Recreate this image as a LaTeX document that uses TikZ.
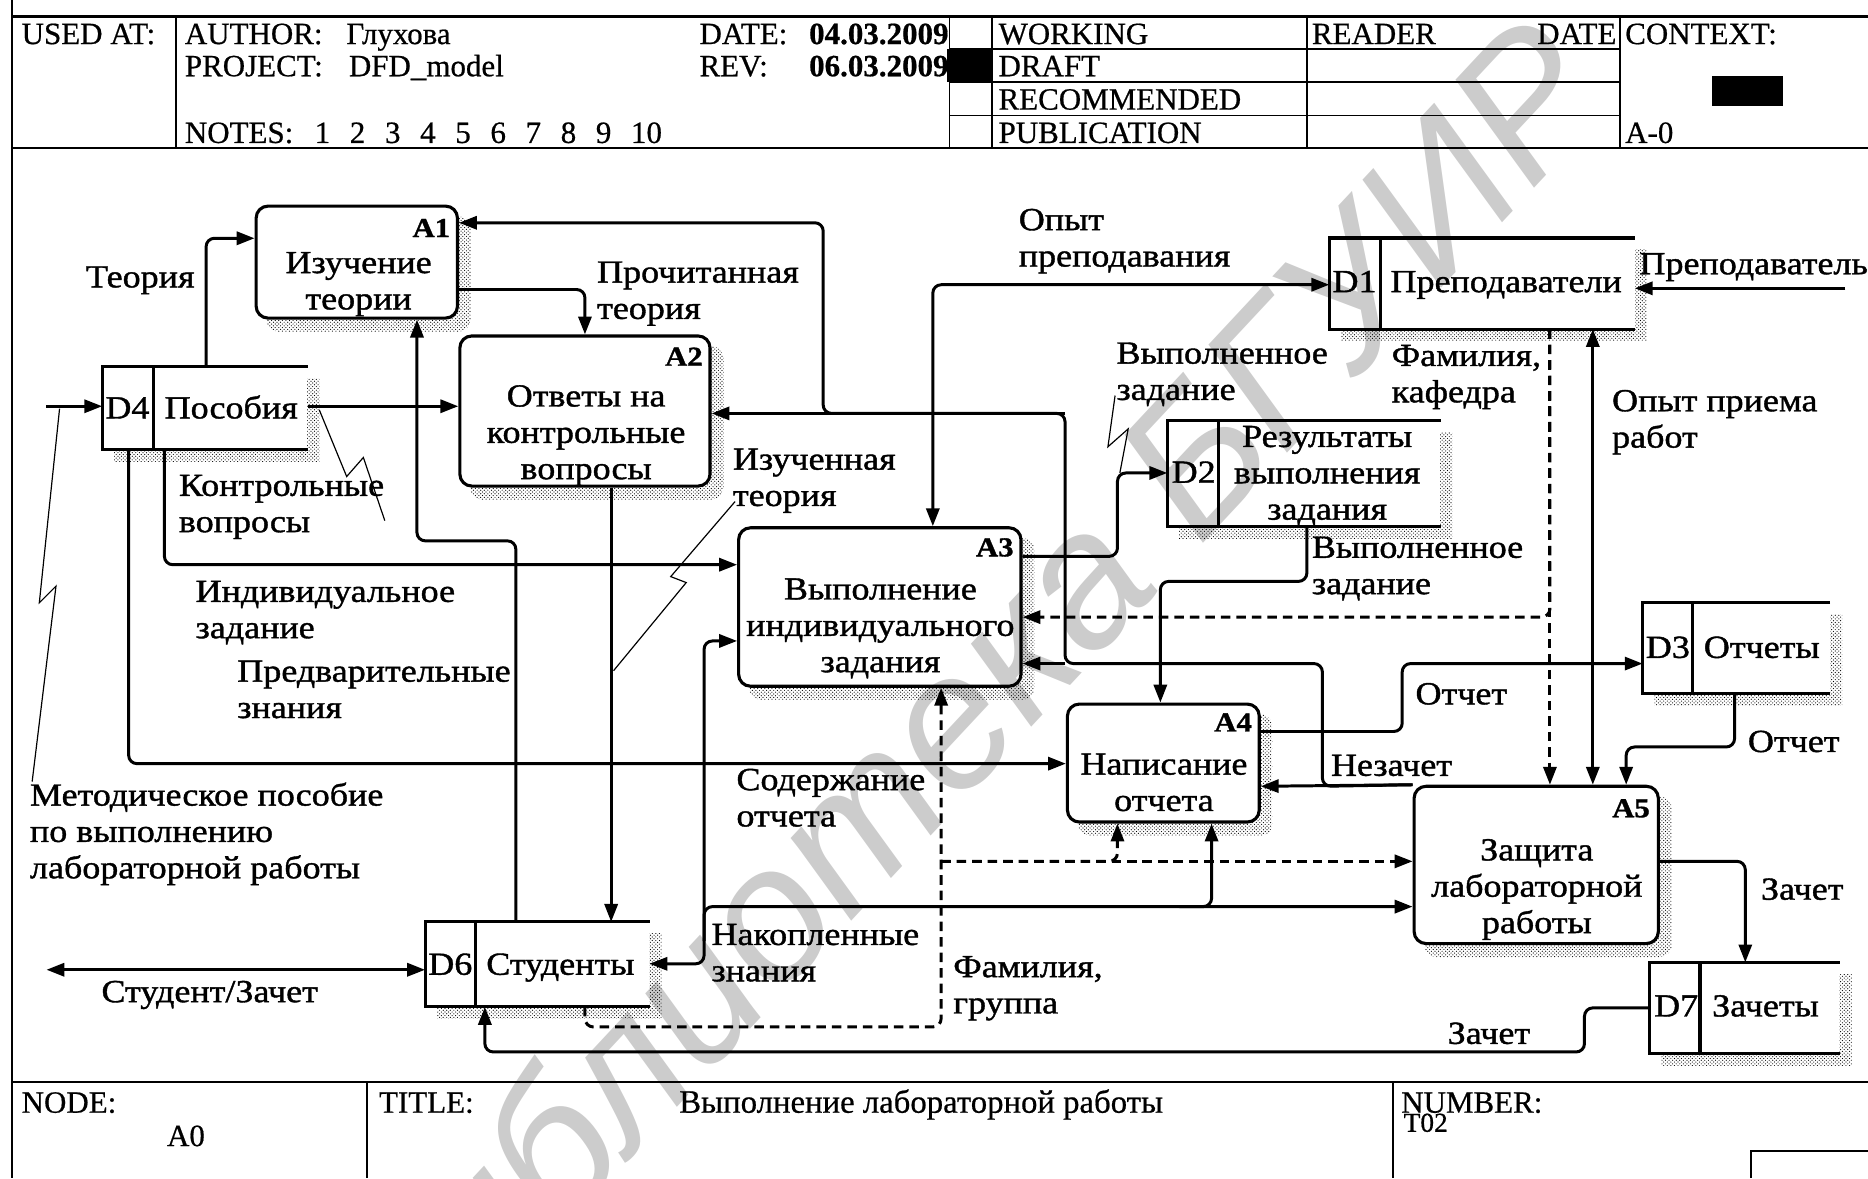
\documentclass[tikz,border=0pt]{standalone}
\usepackage{fontspec}
\setmainfont{Liberation Serif}[FakeBold=0.6]
\newfontfamily\dfont{Liberation Serif}[FakeStretch=1.12,FakeBold=1.2]
\newfontfamily\wmfont{Liberation Sans}
\usetikzlibrary{arrows.meta,patterns}
\pgfdeclarelayer{bg}
\pgfsetlayers{bg,main}
\tikzset{
  conn/.style={line width=2.5pt, rounded corners=7pt, -{Triangle[length=15pt,width=11pt]}},
  conn2/.style={line width=2.5pt, rounded corners=7pt, {Triangle[length=15pt,width=11pt]}-{Triangle[length=15pt,width=11pt]}},
  dconn/.style={conn, dash pattern=on 8pt off 5pt},
  squig/.style={line width=1pt},
  abox/.style={draw, line width=2.6pt, rounded corners=10pt, fill=white, inner sep=0pt},
  sbox/.style={fill=white, inner sep=0pt},
  sline/.style={line width=2.6pt},
  shad/.style={pattern=crosshatch dots, pattern color=black},
  lbl/.style={font=\dfont\fontsize{27}{30.5}\selectfont, inner sep=0pt, align=left, anchor=north west},
  ctxt/.style={font=\dfont\fontsize{27}{30.5}\selectfont, inner sep=0pt, align=center, anchor=north},
  aid/.style={font=\dfont\bfseries\fontsize{23}{26}\selectfont, inner sep=0pt, anchor=base east},
  hdr/.style={font=\fontsize{26}{30}\selectfont, inner sep=0pt, anchor=base west},
  hdrb/.style={font=\fontsize{26}{30}\selectfont\bfseries, inner sep=0pt, anchor=base west},
  frameline/.style={line width=2pt},
  hline/.style={line width=1.5pt},
}
\newcommand\mklbl[4]{\node[lbl] (#1) at (#2,#3-12) {\rule{0pt}{20pt}#4};}
\newcommand\mkctr[4]{\node[ctxt] (#1) at (#2,#3-12) {\rule{0pt}{20pt}#4};}
\newcommand\mkact[5]{\node[abox, minimum width={(#4)-(#2)}, minimum height={(#5)-(#3)}] (#1) at ({((#2)+(#4))/2},{((#3)+(#5))/2}) {};}
\newcommand\mkstore[6]{\node[sbox, minimum width={(#4)-(#2)}, minimum height={(#5)-(#3)}] (#1) at ({((#2)+(#4))/2},{((#3)+(#5))/2}) {};
  \draw[sline] (#1.north east) -- (#1.north west) -- (#1.south west) -- (#1.south east);
  \draw[sline] (#1.north -| #6,0) -- (#1.south -| #6,0);}
\begin{document}
\begin{tikzpicture}[x=1pt,y=-1pt]
\useasboundingbox (0,0) rectangle (1568,989);
% ---------- frame & header ----------
\draw[frameline] (10,0) -- (10,989);
\draw[frameline] (10,14) -- (1568,14);
\draw[frameline] (10,124) -- (1568,124);
\draw[hline] (148,14) -- (148,124);
\draw[hline] (797,14) -- (797,124);
\draw[hline] (833,14) -- (833,124);
\draw[hline] (1097,14) -- (1097,124);
\draw[hline] (1360,14) -- (1360,124);
\draw[hline] (797,41) -- (1360,41);
\draw[hline] (797,69) -- (1360,69);
\draw[hline] (797,97) -- (1360,97);
\fill (795,41) rectangle (833,69);
\fill (1437,64) rectangle (1497,89);
\node[hdr] (h1) at (18,37) {USED AT:};
\node[hdr] (h2) at (155,37) {AUTHOR:\hspace{20pt}Глухова};
\node[hdr] (h3) at (155,64) {PROJECT:\hspace{22pt}DFD\_model};
\node[hdr] (h4) at (155,120) {NOTES:\hspace{18pt}1\hspace{16.5pt}2\hspace{16.5pt}3\hspace{16.5pt}4\hspace{16.5pt}5\hspace{16.5pt}6\hspace{16.5pt}7\hspace{16.5pt}8\hspace{16.5pt}9\hspace{16.5pt}10};
\node[hdr] (h5) at (587,37) {DATE:};
\node[hdrb] (h6) at (679,37) {04.03.2009};
\node[hdr] (h7) at (587,64) {REV:};
\node[hdrb] (h8) at (679,64) {06.03.2009};
\node[hdr] (h9) at (838,37) {WORKING};
\node[hdr] (h10) at (838,64) {DRAFT};
\node[hdr] (h11) at (838,92) {RECOMMENDED};
\node[hdr] (h12) at (838,120) {PUBLICATION};
\node[hdr] (h13) at (1101,37) {READER};
\node[hdr, anchor=base east] (h14) at (1357,37) {DATE};
\node[hdr] (h15) at (1364,37) {CONTEXT:};
\node[hdr] (h16) at (1364,120) {A-0};
% ---------- footer ----------
\draw[frameline] (10,908) -- (1568,908);
\draw[hline] (308,908) -- (308,989);
\draw[hline] (1169,908) -- (1169,989);
\draw[hline] (1470,989) -- (1470,966) -- (1568,966);
\node[hdr] (f1) at (18,934) {NODE:};
\node[hdr] (f2) at (140,962) {A0};
\node[hdr] (f3) at (318,934) {TITLE:};
\node[hdr, font=\fontsize{27.5}{30}\selectfont] (f4) at (570,934) {Выполнение лабораторной работы};
\node[hdr] (f5) at (1176,934) {NUMBER:};
\node[hdr, font=\fontsize{23}{26}\selectfont] (f6) at (1178,950) {T02};
% ---------- activity boxes ----------
\mkact{A1}{215}{173}{384}{267}
\mkact{A2}{386}{282}{596}{408}
\mkact{A3}{620}{443}{857}{576}
\mkact{A4}{896}{591}{1057}{690}
\mkact{A5}{1187}{660}{1392}{792}
% ---------- data stores ----------
\mkstore{D4}{86}{308}{258}{377}{129}
\mkstore{D1}{1116}{200}{1372}{276}{1159}
\mkstore{D2}{980}{353}{1209}{442}{1023}
\mkstore{D3}{1379}{506}{1536}{582}{1421}
\mkstore{D6}{357}{774}{545}{845}{399}
\mkstore{D7}{1385}{808}{1544}{884}{1427}
% ---------- shadows ----------
\begin{pgfonlayer}{bg}
\foreach \n in {A1,A2,A3,A4,A5}
  \fill[shad, rounded corners=10pt] ([shift={(10,10)}]\n.north west) rectangle ([shift={(10,10)}]\n.south east);
\foreach \n in {D1,D2,D3,D4,D6,D7}
  \fill[shad] ([shift={(10,10)}]\n.north west) rectangle ([shift={(10,10)}]\n.south east);
\end{pgfonlayer}
% ---------- box texts ----------
\mkctr{tA1}{301}{221}{Изучение\\теории}
\mkctr{tA2}{492}{333}{Ответы на\\контрольные\\вопросы}
\mkctr{tA3}{739}{495}{Выполнение\\индивидуального\\задания}
\mkctr{tA4}{977}{642}{Написание\\отчета}
\mkctr{tA5}{1290}{714}{Защита\\лабораторной\\работы}
\node[aid] (iA1) at (378,199) {A1};
\node[aid] (iA2) at (590,307) {A2};
\node[aid] (iA3) at (851,467) {A3};
\node[aid] (iA4) at (1051,614) {A4};
\node[aid] (iA5) at (1385,686) {A5};
\mkctr{iD4}{107}{343}{D4}
\mklbl{tD4}{138}{343}{Пособия}
\mkctr{iD1}{1137}{237}{D1}
\mklbl{tD1}{1167}{237}{Преподаватели}
\mkctr{iD2}{1002}{397}{D2}
\mkctr{tD2}{1114}{367}{Результаты\\выполнения\\задания}
\mkctr{iD3}{1400}{544}{D3}
\mklbl{tD3}{1430}{544}{Отчеты}
\mkctr{iD6}{378}{810}{D6}
\mklbl{tD6}{408}{810}{Студенты}
\mkctr{iD7}{1407}{845}{D7}
\mklbl{tD7}{1437}{845}{Зачеты}
% ---------- connectors ----------
\coordinate (eL1) at (39,341);
\coordinate (eL2) at (39,814);
\coordinate (eR1) at (1549,242);
\draw[conn] (eL1) -- (D4.west |- 0,341);
\draw[conn] (D4.north -| 173,0) |- (A1.west |- 0,200);
\draw[conn] (A1.east |- 0,243) -| (A2.north -| 491,0);
\draw[conn] (D4.east |- 0,341) -- (A2.west |- 0,341);
\draw[conn] (D4.south -| 138,0) |- (A3.west |- 0,474);
\draw[conn] (D4.south -| 108,0) |- (A4.west |- 0,641);
\draw[conn] (D6.north -| 433,0) -- (433,454) -| (A1.south -| 350,0);
\draw[conn] (A2.south -| 513,0) -- (D6.north -| 513,0);
\draw[conn] (A5.north west) -- (1110,660) -- (1110,557) -- (894,557) -- (894,347) -- (691,347) -- (691,187) -- (A1.east |- 0,187);
\draw[conn] (A5.north west) -- (A4.east |- 0,660);
\draw[conn] (894,557) -- (A3.east |- 0,557);
\draw[conn] (894,347) -- (A2.east |- 0,347);
\draw[conn2] (A3.north -| 783,0) |- (D1.west |- 0,239);
\draw[conn] (A3.east |- 0,467) -| (938,397) -- (D2.west |- 0,397);
\draw[conn] (D2.south -| 1097,0) |- (974,488) -- (A4.north -| 974,0);
\draw[dconn] (D1.south -| 1301,0) -- (A5.north -| 1301,0);
\draw[dconn] (D1.south -| 1301,0) -- (1301,518) -- (A3.east |- 0,518);
\draw[conn2] (D1.south -| 1337,0) -- (A5.north -| 1337,0);
\draw[conn] (eR1) -- (D1.east |- 0,242);
\draw[conn] (A4.east |- 0,614) -| (1177,557) -- (D3.west |- 0,557);
\draw[conn] (D3.south -| 1456,0) |- (1365,627) -- (A5.north -| 1365,0);
\draw[conn] (A5.east |- 0,723) -| (D7.north -| 1465,0);
\draw[conn] (D7.west |- 0,846) -| (1330,883) -| (D6.south -| 407,0);
\draw[dconn] (D6.south -| 491,0) |- (790,862) -- (A3.south -| 790,0);
\draw[dconn] (790,723) -| (A4.south -| 938,0);
\draw[dconn] (790,723) -- (A5.west |- 0,723);
\draw[conn2] (D6.east |- 0,809) -| (591,538) -- (A3.west |- 0,538);
\draw[conn] (591,790) -- (591,761) -- (A5.west |- 0,761);
\draw[conn] (990,761) -- (1017,761) -- (A4.south -| 1017,0);
\draw[conn2] (eL2) -- (D6.west |- 0,814);
% ---------- label leaders ----------
\draw[squig] (50,343) -- (33,506) -- (47,492) -- (27,656);
\draw[squig] (268,344) -- (291,400) -- (305,384) -- (323,437);
\draw[squig] (617,421) -- (563,484) -- (576,489) -- (515,563);
\draw[squig] (936,332) -- (930,375) -- (947,360) -- (940,397);
% ---------- labels ----------
\mklbl{lTeor}{72}{233}{Теория}
\mklbl{lProch}{501}{229}{Прочитанная\\теория}
\mklbl{lKontr}{150}{408}{Контрольные\\вопросы}
\mklbl{lInd}{164}{497}{Индивидуальное\\задание}
\mklbl{lPred}{199}{564}{Предварительные\\знания}
\mklbl{lMet}{25}{668}{Методическое пособие\\по выполнению\\лабораторной работы}
\mklbl{lIzuch}{615}{386}{Изученная\\теория}
\mklbl{lOpyt}{855}{185}{Опыт\\преподавания}
\mklbl{lVyp1}{937}{297}{Выполненное\\задание}
\mklbl{lFamK}{1168}{299}{Фамилия,\\кафедра}
\mklbl{lOpPr}{1353}{337}{Опыт приема\\работ}
\mklbl{lPrep}{1376}{222}{Преподаватель}
\mklbl{lVyp2}{1101}{460}{Выполненное\\задание}
\mklbl{lOtch1}{1188}{583}{Отчет}
\mklbl{lNez}{1117}{643}{Незачет}
\mklbl{lOtch2}{1467}{623}{Отчет}
\mklbl{lZach1}{1478}{747}{Зачет}
\mklbl{lSod}{618}{655}{Содержание\\отчета}
\mklbl{lNak}{597}{785}{Накопленные\\знания}
\mklbl{lFamG}{800}{812}{Фамилия,\\группа}
\mklbl{lStud}{85}{833}{Студент/Зачет}
\mklbl{lZach2}{1215}{868}{Зачет}
% ---------- watermark ----------
\node[font=\wmfont\itshape\fontsize{160}{160}\selectfont, text=black, text opacity=0.2, rotate=47, inner sep=0pt] (wm) at (806,590) {Библиотека БГУИР};
\end{tikzpicture}
\end{document}
